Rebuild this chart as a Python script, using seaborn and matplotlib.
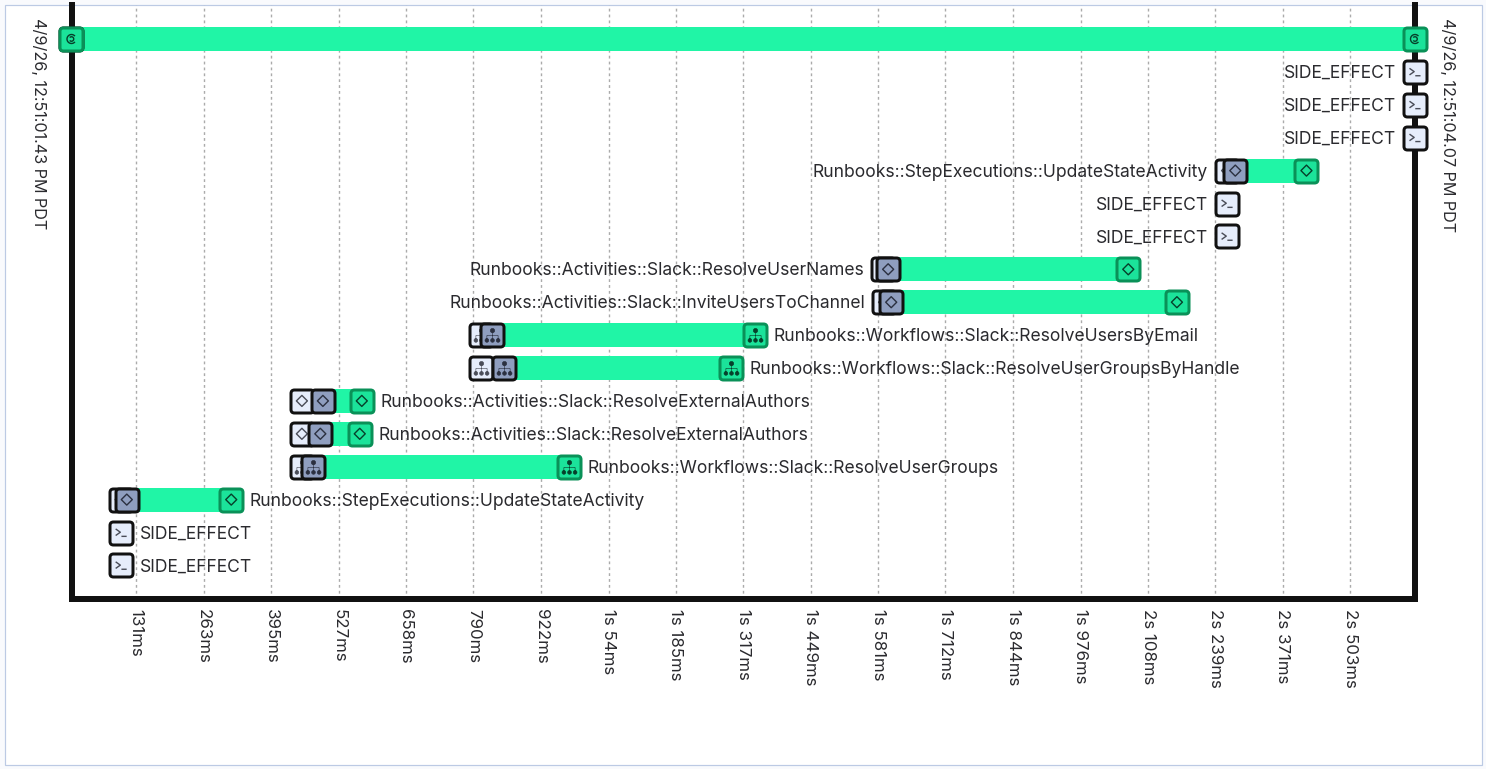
import numpy as np
import pandas as pd
import matplotlib
matplotlib.use("Agg")
import matplotlib.pyplot as plt
import seaborn as sns
from matplotlib.patches import BoxStyle, Rectangle
from matplotlib.path import Path

# Rows of the timeline, top to bottom (nan = that state is not drawn)
row_names = [
    "", "SIDE_EFFECT", "SIDE_EFFECT", "SIDE_EFFECT",
    "Runbooks::StepExecutions::UpdateStateActivity", "SIDE_EFFECT", "SIDE_EFFECT",
    "Runbooks::Activities::Slack::ResolveUserNames",
    "Runbooks::Activities::Slack::InviteUsersToChannel",
    "Runbooks::Workflows::Slack::ResolveUsersByEmail",
    "Runbooks::Workflows::Slack::ResolveUserGroupsByHandle",
    "Runbooks::Activities::Slack::ResolveExternalAuthors",
    "Runbooks::Activities::Slack::ResolveExternalAuthors",
    "Runbooks::Workflows::Slack::ResolveUserGroups",
    "Runbooks::StepExecutions::UpdateStateActivity", "SIDE_EFFECT", "SIDE_EFFECT",
]
nan = np.nan
scheduled_ms = [nan, 2629, 2629, 2629, 2262, 2262, 2262, 1590, 1592, 805, 805, 455, 455, 455, 101, 102, 102]
started_ms = [5, nan, nan, nan, 2278, nan, nan, 1600, 1606, 826, 849, 496, 491, 476, 113, nan, nan]
closed_ms = [2629, nan, nan, nan, 2417, nan, nan, 2069, 2164, 1340, 1293, 572, 568, 977, 317, nan, nan]
# which side of the icons the name goes on
label_side = ["", "left", "left", "left", "left", "left", "left", "left", "left",
              "right", "right", "right", "right", "right", "right", "right", "right"]
# icon shown inside each row's boxes
row_icon = ["swirl", "prompt", "prompt", "prompt", "diamond", "prompt", "prompt", "diamond", "diamond",
            "tree", "tree", "diamond", "diamond", "tree", "diamond", "prompt", "prompt"]

tick_ms = [131, 263, 395, 527, 658, 790, 922, 1054, 1185, 1317, 1449, 1581, 1712, 1844, 1976, 2108, 2239, 2371, 2503]
tick_labels = ["131ms", "263ms", "395ms", "527ms", "658ms", "790ms", "922ms", "1s 54ms", "1s 185ms", "1s 317ms",
               "1s 449ms", "1s 581ms", "1s 712ms", "1s 844ms", "1s 976ms", "2s 108ms", "2s 239ms", "2s 371ms", "2s 503ms"]
x_range_ms = [6, 2629]
start_label = "4/9/26, 12:51:01.43 PM PDT"
end_label = "4/9/26, 12:51:04.07 PM PDT"

W, H = 1486, 769
BAR = "#20f5a6"
BLACK = "#111111"
LIGHT = "#e6edfb"
SLATE = "#8f9ebf"
GREEN_FACE = "#1be39a"
GREEN_EDGE = "#0a9158"
TEXT = "#2a2a2e"

sns.set_theme(style="white")
plt.rcParams["font.family"] = ["Inter", "DejaVu Sans"]

df = pd.DataFrame({"row": range(len(row_names)), "name": row_names, "scheduled": scheduled_ms,
                   "started": started_ms, "closed": closed_ms, "side": label_side, "icon": row_icon})
df["duration"] = (df["closed"] - df["started"]).fillna(0)
df["bar_left"] = df["started"].fillna(0)


def px(n):
    # pixels to points at dpi 100
    return n * 72 / 100


def rounded_box():
    return BoxStyle.Round(pad=0, rounding_size=0.3)(-1, -1, 2, 2, 1)


def diamond_path():
    return Path([(0, 1), (1, 0), (0, -1), (-1, 0), (0, 1)], closed=True)


def prompt_path():
    return Path([(-1, 0.65), (-0.15, 0.05), (-1, -0.55), (0.05, -0.7), (1, -0.7)],
                [Path.MOVETO, Path.LINETO, Path.LINETO, Path.MOVETO, Path.LINETO])


def tree_path():
    parts = [Path.circle((0, 0.68), 0.3)]
    for cx in (-0.78, 0, 0.78):
        parts.append(Path.circle((cx, -0.68), 0.26))
        parts.append(Path([(cx, -0.5), (cx, 0)], [Path.MOVETO, Path.LINETO]))
    parts.append(Path([(-0.78, 0), (0.78, 0)], [Path.MOVETO, Path.LINETO]))
    parts.append(Path([(0, 0), (0, 0.5)], [Path.MOVETO, Path.LINETO]))
    parts.append(Path([(1, 1), (1, 1)], [Path.MOVETO, Path.LINETO]))
    return Path.make_compound_path(*parts)


def swirl_path():
    outer = Path.arc(40, 320)
    inner = Path.arc(220, 500)
    inner = Path(inner.vertices * 0.5, inner.codes)
    return Path.make_compound_path(outer, inner)


ICON_STYLE = {
    "diamond": (diamond_path(), 11, False),
    "prompt": (prompt_path(), 11, False),
    "tree": (tree_path(), 15, True),
    "swirl": (swirl_path(), 9, False),
}


def draw_points(ax, xs, ys, marker, size_px, face, edge, lw_px, z):
    sns.scatterplot(x=xs, y=ys, marker=marker, s=px(size_px) ** 2, facecolor=face, edgecolor=edge,
                    linewidth=px(lw_px), zorder=z, clip_on=False, legend=False, ax=ax)


def draw_state(ax, rows, column, face, edge, icon_color, z):
    # one rounded box per row, the row's own icon on top of it
    rows = rows.dropna(subset=[column])
    draw_points(ax, rows[column], rows["row"], rounded_box(), 23, face, edge, 3, z)
    for icon, part in rows.groupby("icon"):
        path, size, filled = ICON_STYLE[icon]
        draw_points(ax, part[column], part["row"], path, size, icon_color if filled else "none",
                    icon_color, 0.6 if filled else 1.4, z + 0.5)


fig = plt.figure(figsize=(W / 100, H / 100), dpi=100, facecolor="#f9fafd")
fig.patches.append(Rectangle((5 / W, 1 - 765 / H), 1477 / W, 760 / H, transform=fig.transFigure, figure=fig,
                             facecolor="white", edgecolor="#bccae4", linewidth=px(1.2), zorder=-1))

ax = fig.add_axes([72 / W, 1 - 599 / H, (1415 - 72) / W, (599 - 5) / H])
ax.patch.set_visible(False)

sns.barplot(data=df, x="duration", y="row", orient="y", left=df["bar_left"].to_numpy(), color=BAR, saturation=1,
            width=24 / 32.9, errorbar=None, linewidth=0, zorder=2, ax=ax)

draw_state(ax, df, "scheduled", LIGHT, BLACK, "#4a4d58", 3)
draw_state(ax, df, "started", SLATE, BLACK, "#2b3040", 4)
draw_state(ax, df, "closed", GREEN_FACE, GREEN_EDGE, "#06402b", 5)
# the first row's start box is a green one
first = df[df["row"] == 0]
draw_state(ax, first, "started", GREEN_FACE, GREEN_EDGE, "#06402b", 5)

for _, r in df.iterrows():
    if not r["name"]:
        continue
    if r["side"] == "left":
        anchor, off, ha = r["scheduled"], -19, "right"
    else:
        anchor = r["closed"] if not np.isnan(r["closed"]) else r["scheduled"]
        off, ha = 18.5, "left"
    ax.annotate(r["name"], (anchor, r["row"]), xytext=(px(off), px(-1.5)), textcoords="offset points",
                ha=ha, va="center", fontsize=px(17.5), color=TEXT, zorder=6)

ax.set_xlim(*x_range_ms)
ax.set_ylim((599 - 39) / 32.9, (5 - 39) / 32.9)
ax.set_xticks(tick_ms, tick_labels, rotation=-90, fontsize=px(16.9), color=TEXT)
ax.set_yticks([])
ax.set_xlabel("")
ax.set_ylabel("")
ax.tick_params(axis="x", length=0, pad=px(10))
ax.set_axisbelow(True)
ax.grid(axis="x", color="#ababab", linewidth=px(1.4), linestyle=(0, (2, 2.2)))

ax.spines["top"].set_visible(False)
for side in ["left", "right", "bottom"]:
    ax.spines[side].set_visible(True)
    ax.spines[side].set_linewidth(px(6))
    ax.spines[side].set_color(BLACK)

fig.text(38 / W, 1 - 18 / H, start_label, rotation=-90, ha="center", va="top", fontsize=px(16.2), color=TEXT)
fig.text(1447 / W, 1 - 18 / H, end_label, rotation=-90, ha="center", va="top", fontsize=px(16.2), color=TEXT)

fig.savefig("out.png", dpi=100, facecolor=fig.get_facecolor())
